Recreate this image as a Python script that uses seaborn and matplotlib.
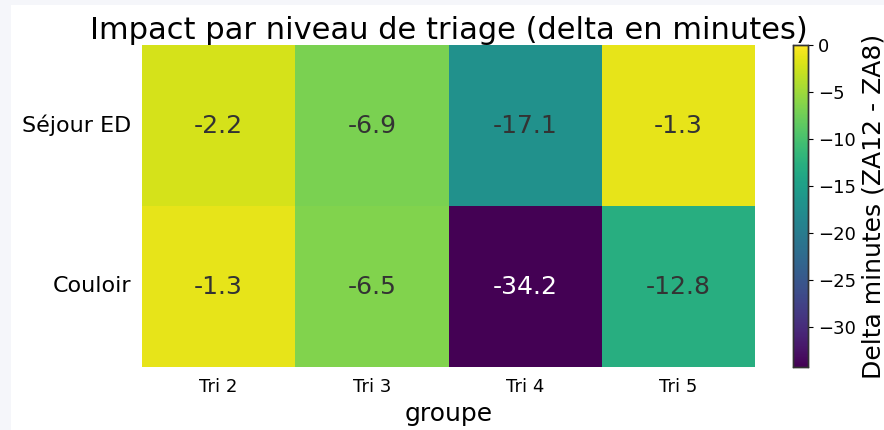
import numpy as np
import pandas as pd
import seaborn as sns
import matplotlib.pyplot as plt
from matplotlib.patches import Rectangle

groupes = ['Tri 2', 'Tri 3', 'Tri 4', 'Tri 5']
lignes = ['Séjour ED', 'Couloir']
sejour_ed = [-2.2, -6.9, -17.1, -1.3]
couloir = [-1.3, -6.5, -34.2, -12.8]

df = pd.DataFrame([sejour_ed, couloir], index=lignes, columns=groupes)

W, H = 884, 430
fig = plt.figure(figsize=(W / 100, H / 100), dpi=100, facecolor='#f5f6fa')
fig.patches.append(Rectangle((11 / W, 0), 1, 1 - 5 / H, transform=fig.transFigure,
                             facecolor='white', edgecolor='none', zorder=-1))

ax = fig.add_axes([142 / W, 1 - 367 / H, (755 - 142) / W, (367 - 45) / H])
cax = fig.add_axes([793 / W, 1 - 367 / H, 15 / W, (367 - 45) / H])

sns.heatmap(df, ax=ax, cbar_ax=cax, cmap='viridis', vmax=0, annot=True, fmt='.1f',
            annot_kws={'size': 18})

# texte clair seulement sur la case la plus sombre
for t in ax.texts:
    v = float(t.get_text())
    t.set_color('white' if v < -25 else '#333333')

ax.set_title('Impact par niveau de triage (delta en minutes)', fontsize=22, pad=3)
ax.set_xlabel('groupe', fontsize=18)
ax.set_ylabel('')
ax.tick_params(axis='x', labelsize=13, length=0, pad=8)
ax.tick_params(axis='y', labelsize=16, length=0, rotation=0, pad=8)

cax.tick_params(labelsize=13)
cax.set_ylabel('Delta minutes (ZA12 - ZA8)', fontsize=18)
for s in cax.spines.values():
    s.set_visible(True)
    s.set_color('#333333')
    s.set_linewidth(1)

fig.savefig('out.png', dpi=100, facecolor=fig.get_facecolor())
